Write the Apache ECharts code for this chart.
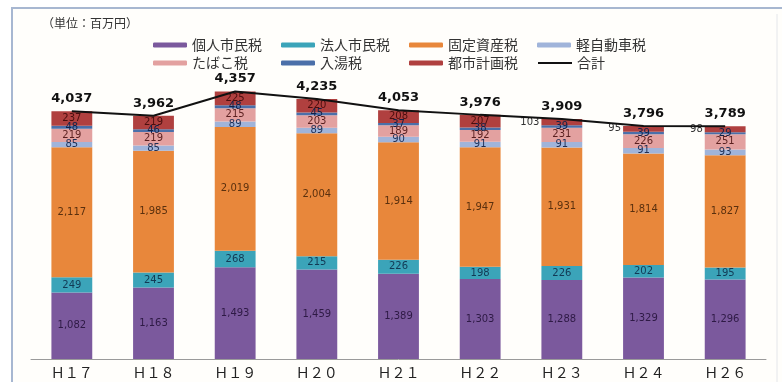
<!DOCTYPE html>
<html>
<head>
<meta charset="utf-8">
<script src="https://cdn.jsdelivr.net/npm/echarts@6/dist/echarts.min.js"></script>
<style>
  html, body { margin: 0; padding: 0; background: #ffffff; }
  #chart { width: 782px; height: 382px; }
</style>
</head>
<body>
<div id="chart"></div>
<script>
// 市税の内訳（単位：百万円）
const categories = ['Ｈ１７', 'Ｈ１８', 'Ｈ１９', 'Ｈ２０', 'Ｈ２１', 'Ｈ２２', 'Ｈ２３', 'Ｈ２４', 'Ｈ２６'];
const kojinShimin = [1082, 1163, 1493, 1459, 1389, 1303, 1288, 1329, 1296];
const hojinShimin = [249, 245, 268, 215, 226, 198, 226, 202, 195];
const koteiShisan = [2117, 1985, 2019, 2004, 1914, 1947, 1931, 1814, 1827];
const keiJidosha = [85, 85, 89, 89, 90, 91, 91, 91, 93];
const tabako = [219, 219, 215, 203, 189, 192, 231, 226, 251];
const nyuto = [48, 46, 48, 45, 37, 38, 39, 39, 29];
const toshiKeikaku = [237, 219, 225, 220, 208, 207, 103, 95, 98];
const gokei = [4037, 3962, 4357, 4235, 4053, 3976, 3909, 3796, 3789];

const fmt = v => String(v).replace(/\B(?=(\d{3})+(?!\d))/g, ',');

// thin segments whose label sits beside the bar
const sideLabelFrom = 6;

function barSeries(name, values, color, textColor, sideLabel) {
  return {
    name: name,
    type: 'bar',
    stack: 'tax',
    barWidth: '50%',
    itemStyle: { color: color },
    label: {
      show: true,
      position: 'inside',
      color: textColor,
      fontSize: 10,
      fontFamily: 'DejaVu Sans',
      formatter: p => fmt(p.value)
    },
    data: values.map((v, i) => {
      if (sideLabel && i >= sideLabelFrom) {
        return { value: v, label: { position: 'left', distance: 2, color: '#333' } };
      }
      return v;
    })
  };
}

const chart = echarts.init(document.getElementById('chart'), null, { renderer: 'canvas' });

chart.setOption({
  backgroundColor: '#ffffff',
  animation: false,
  graphic: [
    {
      type: 'rect',
      silent: true,
      z: -10,
      shape: { x: 12, y: 8, width: 790, height: 390 },
      style: { fill: '#fffefb', stroke: '#a7b7d1', lineWidth: 2 }
    },
    {
      type: 'line',
      silent: true,
      z: -9,
      shape: { x1: 777, y1: 14, x2: 777, y2: 382 },
      style: { stroke: '#e4e6ea', lineWidth: 1 }
    },
    {
      type: 'text',
      silent: true,
      left: 42,
      top: 17,
      style: {
        text: '（単位：百万円）',
        fill: '#333',
        font: '12px "Noto Sans CJK JP"'
      }
    }
  ],
  legend: {
    left: 148,
    top: 32,
    width: 520,
    itemWidth: 34,
    itemHeight: 5,
    itemGap: 2,
    textStyle: {
      color: '#333',
      fontSize: 14,
      lineHeight: 16,
      fontFamily: 'Noto Sans CJK JP',
      width: 87,
      overflow: 'truncate'
    },
    data: [
      '個人市民税', '法人市民税', '固定資産税', '軽自動車税',
      'たばこ税', '入湯税', '都市計画税',
      { name: '合計', itemStyle: { opacity: 0 }, lineStyle: { color: '#111', width: 2 } }
    ]
  },
  grid: { left: 31, right: 16, top: 52, bottom: 23, containLabel: false },
  xAxis: {
    type: 'category',
    data: categories,
    axisTick: { show: false },
    axisLine: { lineStyle: { color: '#9a9a9a', width: 1 } },
    axisLabel: {
      color: '#222',
      fontSize: 14,
      margin: 7,
      fontFamily: 'Noto Sans CJK JP'
    }
  },
  yAxis: {
    type: 'value',
    min: 0,
    max: 5000,
    show: false,
    splitLine: { show: false }
  },
  series: [
    barSeries('個人市民税', kojinShimin, '#7b599d', '#2e1a45'),
    barSeries('法人市民税', hojinShimin, '#3ba4b9', '#123a55'),
    barSeries('固定資産税', koteiShisan, '#e8873b', '#5a300e'),
    barSeries('軽自動車税', keiJidosha, '#a0b4da', '#1f2f55'),
    barSeries('たばこ税', tabako, '#e3a1a0', '#5a1f1f'),
    barSeries('入湯税', nyuto, '#4b6fa9', '#10224a'),
    barSeries('都市計画税', toshiKeikaku, '#b0403f', '#4a0e0e', true),
    {
      name: '合計',
      type: 'line',
      data: gokei,
      symbol: 'circle',
      symbolSize: 0,
      showSymbol: true,
      z: 5,
      lineStyle: { color: '#111', width: 2 },
      itemStyle: { color: '#111' },
      label: {
        show: true,
        position: 'top',
        distance: 6,
        color: '#111',
        fontSize: 13,
        fontWeight: 'bold',
        fontFamily: 'DejaVu Sans',
        formatter: p => fmt(p.value)
      }
    }
  ]
});
</script>
</body>
</html>
